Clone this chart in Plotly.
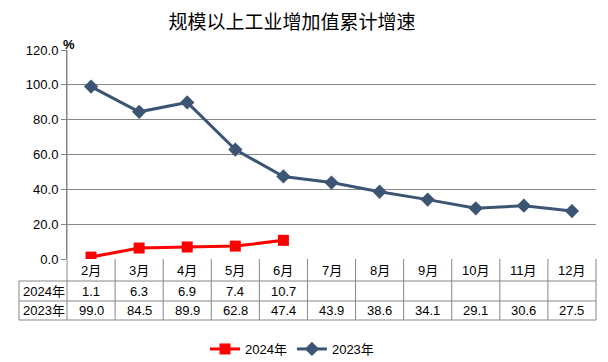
import plotly.graph_objects as go

months = ["2月", "3月", "4月", "5月", "6月", "7月", "8月", "9月", "10月", "11月", "12月"]
vals_2024 = [1.1, 6.3, 6.9, 7.4, 10.7]
vals_2023 = [99.0, 84.5, 89.9, 62.8, 47.4, 43.9, 38.6, 34.1, 29.1, 30.6, 27.5]
series_names = ["2024年", "2023年"]
y_ticks = [0, 20, 40, 60, 80, 100, 120]

# The page body has an 8px margin, so the figure is drawn 8px smaller and
# reference pixel positions are shifted by that offset.
OFF = 8
W, H = 608 - OFF, 362 - OFF
ML, MR, MT, MB = 67 - OFF, 12, 50 - OFF, 362 - 259
plot_h = H - MT - MB
plot_w = W - ML - MR

def py(pix):
    return (H - MB - (pix - OFF)) / plot_h

def px(pix):
    return ((pix - OFF) - ML) / plot_w

FONT = "Liberation Sans, Arial, Noto Sans CJK SC, sans-serif"
GRID = "#868686"
RED = "#FF0000"
BLUE = "#3D5575"

fig = go.Figure()
fig.add_trace(go.Scatter(
    x=months[:len(vals_2024)], y=vals_2024, name=series_names[0], mode="lines+markers",
    line=dict(color=RED, width=3), marker=dict(symbol="square", size=11, color=RED)))
fig.add_trace(go.Scatter(
    x=months, y=vals_2023, name=series_names[1], mode="lines+markers",
    line=dict(color=BLUE, width=3), marker=dict(symbol="diamond", size=11, color=BLUE)))

shapes = []
line_style = dict(color=GRID, width=1)
row_edges = [281, 301, 320]
for r in row_edges:
    shapes.append(dict(type="line", xref="paper", yref="paper", x0=px(19), x1=1,
                       y0=py(r), y1=py(r), line=line_style))
shapes.append(dict(type="line", xref="paper", yref="paper", x0=px(19), x1=px(19),
                   y0=py(281), y1=py(320), line=line_style))
shapes.append(dict(type="line", xref="paper", yref="paper", x0=0, x1=0,
                   y0=1, y1=py(320), line=line_style))
shapes.append(dict(type="line", xref="paper", yref="paper", x0=1, x1=1,
                   y0=0, y1=py(320), line=line_style))
for i in range(len(months) - 1):
    shapes.append(dict(type="line", xref="x", yref="paper", x0=i + 0.5, x1=i + 0.5,
                       y0=0, y1=py(320), line=line_style))

annotations = []
tf = dict(family=FONT, size=13, color="black")
for i, m in enumerate(months):
    annotations.append(dict(x=m, xref="x", y=py(270), yref="paper", text=m,
                            showarrow=False, font=tf, yanchor="middle"))
    if i < len(vals_2024):
        annotations.append(dict(x=m, xref="x", y=py(291), yref="paper",
                                text=f"{vals_2024[i]:.1f}", showarrow=False, font=tf,
                                yanchor="middle"))
    annotations.append(dict(x=m, xref="x", y=py(310.5), yref="paper",
                            text=f"{vals_2023[i]:.1f}", showarrow=False, font=tf,
                            yanchor="middle"))
annotations.append(dict(x=px(21), xref="paper", y=py(291), yref="paper", text=series_names[0],
                        showarrow=False, font=tf, xanchor="left", yanchor="middle"))
annotations.append(dict(x=px(21), xref="paper", y=py(310.5), yref="paper", text=series_names[1],
                        showarrow=False, font=tf, xanchor="left", yanchor="middle"))
annotations.append(dict(x=px(69), xref="paper", y=py(44), yref="paper", text="<b>%</b>",
                        showarrow=False, font=dict(family=FONT, size=13, color="black"),
                        xanchor="center", yanchor="middle"))

fig.update_layout(
    width=W, height=H,
    margin=dict(l=ML, r=MR, t=MT, b=MB, autoexpand=False),
    paper_bgcolor="white", plot_bgcolor="white",
    title=dict(text="规模以上工业增加值累计增速", x=(292 - OFF) / W, xanchor="center",
               y=1 - (22.5 - OFF) / H, yanchor="middle",
               font=dict(family="Noto Sans CJK SC, sans-serif", size=19, color="black")),
    xaxis=dict(type="category", categoryorder="array", categoryarray=months,
               range=[-0.5, len(months) - 0.5], showticklabels=False, showgrid=False,
               zeroline=False, showline=False, ticks=""),
    yaxis=dict(range=[0, 120], tickvals=y_ticks, ticktext=[f"{v:.1f}" for v in y_ticks],
               showgrid=True, gridcolor=GRID, gridwidth=1, zeroline=False,
               showline=True, linecolor=GRID, linewidth=1,
               ticks="outside", ticklen=5, tickcolor=GRID,
               tickfont=dict(family=FONT, size=13, color="black")),
    showlegend=True,
    legend=dict(orientation="h", xref="container", x=(292 - OFF) / W, xanchor="center",
                yref="container", y=1 - (349 - OFF) / H, yanchor="middle",
                font=dict(family=FONT, size=13, color="black"), itemwidth=30,
                tracegroupgap=0, bgcolor="rgba(0,0,0,0)"),
    shapes=shapes, annotations=annotations,
)

fig.write_html("out.html")
